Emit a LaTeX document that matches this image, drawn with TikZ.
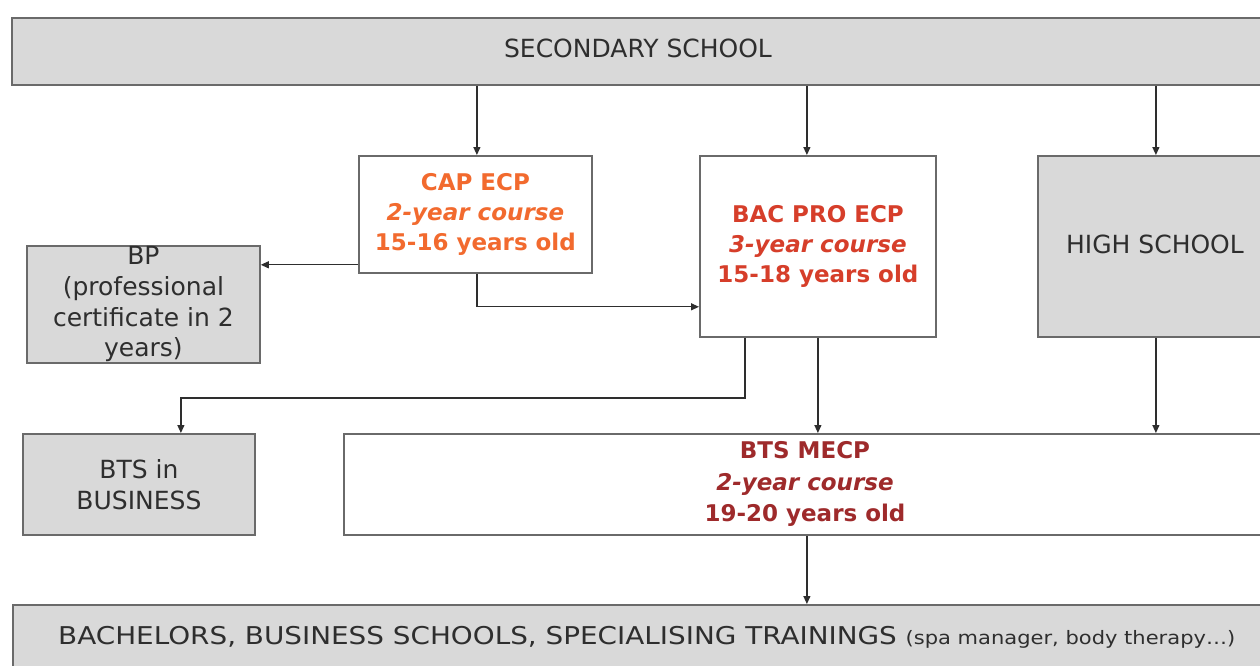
\documentclass[tikz,border=0pt]{standalone}
\usepackage{fontspec}
\setmainfont{DejaVu Sans}
\usetikzlibrary{arrows.meta,calc}
\definecolor{boxgray}{HTML}{D9D9D9}
\definecolor{edgegray}{HTML}{6A6A6A}
\definecolor{txtdark}{HTML}{2E2E2E}
\definecolor{caporange}{HTML}{F26A2E}
\definecolor{bacred}{HTML}{D63E2A}
\definecolor{btsred}{HTML}{9E2A2B}
\tikzset{
  box/.style={draw=edgegray, line width=1.8pt, anchor=north west, inner sep=0pt, align=center,
    font=\fontsize{25}{30.7}\selectfont},
  graybox/.style={box, fill=boxgray, text=txtdark},
  whitebox/.style={box, fill=white, font=\fontsize{23}{30}\selectfont\bfseries},
  plaintxt/.style={text=txtdark, inner sep=0pt, font=\fontsize{25}{30}\selectfont},
  arr/.style={draw=txtdark, line width=1.2pt, -{Triangle[length=8pt,width=7pt]}},
}
\begin{document}
\begin{tikzpicture}[x=1pt,y=-1pt]
\path[use as bounding box, clip] (0,0) rectangle (1260,665);
\fill[white] (0,0) rectangle (1260,665);

\node[graybox, minimum width=1253pt, minimum height=67pt] (top) at (11,17) {};
\node[plaintxt] (toptxt) at (638,48) {SECONDARY SCHOOL};

\node[whitebox, minimum width=233pt, minimum height=117pt, text=caporange] (cap) at (358,155)
  {CAP ECP\\ \textit{2-year course}\\ 15-16 years old};

\node[whitebox, minimum width=236pt, minimum height=181pt, text=bacred] (bac) at (699,155)
  {BAC PRO ECP\\ \textit{3-year course}\\ 15-18 years old};

\node[graybox, minimum width=236pt, minimum height=181pt] (hs) at (1037,155) {};
\node[plaintxt] (hstxt) at (1155,244) {HIGH SCHOOL};

\node[graybox, minimum width=233pt, minimum height=117pt] (bp) at (26,245)
  {BP\\ (professional\\ certificate in 2\\ years)};

\node[graybox, minimum width=232pt, minimum height=101pt] (btsb) at (22,433)
  {BTS in\\ BUSINESS};

\node[whitebox, minimum width=922pt, minimum height=101pt, text=btsred] (btsm) at (343,433) {};
\node[text=btsred, align=center, inner sep=0pt, font=\fontsize{23}{31.5}\selectfont\bfseries] (btsmtxt) at (805,484)
  {BTS MECP\\ \textit{2-year course}\\ 19-20 years old};

\node[graybox, minimum width=1253pt, minimum height=90pt] (bot) at (12,604) {};
\node[text=txtdark, anchor=west, inner sep=0pt] (bottxt) at (58,637)
  {\resizebox{1177pt}{\height}{\fontsize{24.5}{28}\selectfont BACHELORS, BUSINESS SCHOOLS, SPECIALISING TRAININGS {\fontsize{18.5}{22}\selectfont (spa manager, body therapy…)}}};

% connectors
\draw[arr] ([xshift=1.5pt]cap.north |- top.south) -- ([xshift=1.5pt]cap.north);
\draw[arr] ([xshift=-11pt]bac.north |- top.south) -- ([xshift=-11pt]bac.north);
\draw[arr] (hs.north |- top.south) -- (hs.north);
\draw[arr] ([yshift=9pt]cap.south west) -- ([yshift=9pt]cap.south west -| bp.east);
\draw[arr] ([xshift=1.5pt]cap.south) |- ([yshift=31pt]bac.south west);
\coordinate (j1) at (745,398);
\draw[arr] ([xshift=46pt]bac.south west) -- (j1) -| ([xshift=42pt]btsb.north);
\draw[arr] (bac.south) -- (bac.south |- btsm.north);
\draw[arr] (hs.south) -- (hs.south |- btsm.north);
\draw[arr] ([xshift=2pt]btsm.south) -- ([xshift=2pt]btsm.south |- bot.north);
\end{tikzpicture}
\end{document}
